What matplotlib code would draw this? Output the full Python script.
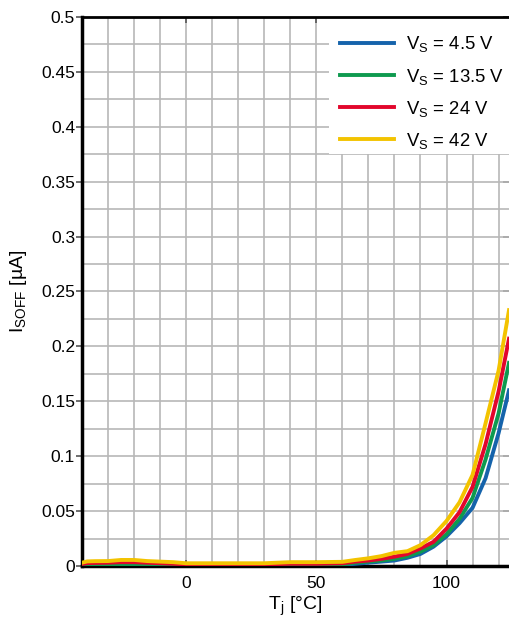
import matplotlib
matplotlib.use("Agg")
import matplotlib.pyplot as plt
from matplotlib.ticker import MultipleLocator, FixedLocator, FuncFormatter
from matplotlib.patches import Rectangle

plt.rcParams['font.family'] = ['Liberation Sans', 'DejaVu Sans']
plt.rcParams['mathtext.fontset'] = 'custom'
plt.rcParams['mathtext.rm'] = 'Liberation Sans'
plt.rcParams['mathtext.it'] = 'Liberation Sans'
plt.rcParams['mathtext.bf'] = 'Liberation Sans:bold'

temps = [-40, -38, -35, -30, -25, -20, -15, -10, -5, 0, 10, 20, 30, 40, 50, 60,
         65, 70, 75, 80, 85, 90, 95, 100, 105, 110, 115, 120, 124]

i_4v5 = [0.0008, 0.0008, 0.0008, 0.0008, 0.0008, 0.0008, 0.0008, 0.0009, 0.0010, 0.0008,
         0.0008, 0.0008, 0.0008, 0.0008, 0.0008, 0.0010,
         0.0020, 0.0030, 0.0040, 0.0050, 0.0075, 0.0110, 0.0176, 0.0270, 0.0390, 0.0530,
         0.0800, 0.1210, 0.1600]
i_13v5 = [0.0012, 0.0012, 0.0012, 0.0012, 0.0012, 0.0012, 0.0012, 0.0012, 0.0012, 0.0012,
          0.0012, 0.0012, 0.0012, 0.0012, 0.0012, 0.0015,
          0.0030, 0.0040, 0.0050, 0.0065, 0.0090, 0.0130, 0.0190, 0.0290, 0.0430, 0.0620,
          0.0970, 0.1390, 0.1850]
i_24v = [0.0018, 0.0026, 0.0028, 0.0030, 0.0035, 0.0035, 0.0030, 0.0025, 0.0020, 0.0015,
         0.0015, 0.0015, 0.0015, 0.0020, 0.0020, 0.0025,
         0.0040, 0.0050, 0.0065, 0.0085, 0.0110, 0.0160, 0.0220, 0.0340, 0.0490, 0.0720,
         0.1110, 0.1590, 0.2070]
i_42v = [0.0030, 0.0042, 0.0044, 0.0045, 0.0055, 0.0055, 0.0045, 0.0040, 0.0035, 0.0025,
         0.0025, 0.0025, 0.0025, 0.0035, 0.0035, 0.0038,
         0.0055, 0.0070, 0.0090, 0.0120, 0.0135, 0.0190, 0.0280, 0.0410, 0.0580, 0.0830,
         0.1300, 0.1780, 0.2330]

labels = [r'V$_\mathregular{S}$ = 4.5 V', r'V$_\mathregular{S}$ = 13.5 V',
          r'V$_\mathregular{S}$ = 24 V', r'V$_\mathregular{S}$ = 42 V']
colors = ['#1563ab', '#0e9a4f', '#e2062c', '#f3c300']
series = [i_4v5, i_13v5, i_24v, i_42v]

W, H = 509, 623
fig = plt.figure(figsize=(W / 100, H / 100), dpi=100)
ax = fig.add_axes([82 / W, 57 / H, 1 - 82 / W, (566 - 17) / H])

for s, c, l in zip(series, colors, labels):
    ax.plot(temps, s, color=c, lw=2.8, label=l, solid_joinstyle='round', zorder=3)

ax.set_xlim(-40, 124)
ax.set_ylim(0, 0.5)
ax.xaxis.set_major_locator(FixedLocator([0, 50, 100]))
ax.xaxis.set_minor_locator(MultipleLocator(10))
ax.yaxis.set_major_locator(MultipleLocator(0.05))
ax.yaxis.set_minor_locator(MultipleLocator(0.025))
ax.yaxis.set_major_formatter(FuncFormatter(lambda v, p: ('%.2f' % v).rstrip('0').rstrip('.') if abs(v) > 1e-9 else '0'))
ax.grid(True, which='both', color='#b8b8b8', lw=1.2, zorder=0)
ax.set_axisbelow(True)

ax.tick_params(axis='x', which='major', direction='in', length=4, width=1.2, color='#555555',
               top=True, bottom=True, labelsize=12.5, pad=7)
ax.tick_params(axis='y', which='major', direction='out', length=4, width=1.2, color='#555555',
               left=True, right=False, labelsize=12.5, pad=1)
ax.tick_params(which='minor', length=0)

sec = ax.secondary_yaxis('right')
sec.yaxis.set_major_locator(MultipleLocator(0.05))
sec.tick_params(direction='in', length=4, width=1.2, color='#555555', labelright=False)
sec.spines['right'].set_visible(False)

for sp in ['left', 'bottom']:
    ax.spines[sp].set_linewidth(2.5)
ax.spines['top'].set_linewidth(2.0)
ax.spines['right'].set_visible(False)

ax.set_xlabel(r'T$_\mathregular{j}$ [°C]', fontsize=14, labelpad=3)
ax.set_ylabel(r'I$_\mathregular{SOFF}$ [µA]', fontsize=14, labelpad=9)

# white legend background box
ax.add_patch(Rectangle((329 / W, (H - 154) / H), 1 - 329 / W, (154 - 17) / H,
                       transform=fig.transFigure, facecolor='white', edgecolor='none',
                       zorder=2.5))

leg = ax.legend(loc='upper left', bbox_to_anchor=(340 / W, (H - 34.5) / H),
                bbox_transform=fig.transFigure, frameon=False, fontsize=13.3,
                handlelength=2.9, handletextpad=0.65, labelspacing=0.65,
                borderaxespad=0.0, borderpad=0.0)
leg.set_zorder(5)

fig.savefig('out.png', dpi=100)
